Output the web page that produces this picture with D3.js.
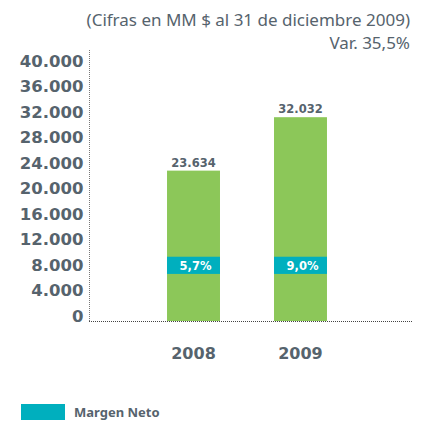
<!DOCTYPE html>
<html>
<head>
<meta charset="utf-8">
<script src="https://cdn.jsdelivr.net/npm/d3@7"></script>
<style>
  body { margin: 0; background: #fff; }
  text { font-family: "Noto Sans", "Open Sans", sans-serif; fill: #56636d; }
  .num { font-family: "DejaVu Sans", sans-serif; font-weight: bold; }
</style>
</head>
<body>
<div id="wrapper"></div>
<script>
// data
const years = ["2008", "2009"];
const ventas = [23634, 32032];
const ventasLabels = ["23.634", "32.032"];
const margenLabels = ["5,7%", "9,0%"];
const margenBand = [7400, 10100];   // where the teal band sits on the value axis
const yTicks = [0, 4000, 8000, 12000, 16000, 20000, 24000, 28000, 32000, 36000, 40000];

function build() {
  const dimension = { width: 425, height: 428 };

  const svg = d3.select("#wrapper").append("svg")
    .attr("width", dimension.width)
    .attr("height", dimension.height);

  const x = d3.scaleBand()
    .domain(years)
    .range([87, 407])
    .paddingInner(0.505)
    .paddingOuter(0.748);

  const y = d3.scaleLinear()
    .domain([0, 40000])
    .range([321, 66.5]);

  // title
  svg.append("text")
    .attr("x", 410).attr("y", 26)
    .attr("text-anchor", "end")
    .style("font-size", "17px")
    .text("(Cifras en MM $ al 31 de diciembre 2009)");
  svg.append("text")
    .attr("x", 410).attr("y", 48.5)
    .attr("text-anchor", "end")
    .style("font-size", "17px")
    .text("Var. 35,5%");

  // bars
  svg.selectAll("rect.bar")
    .data(ventas)
    .enter()
    .append("rect")
    .attr("class", "bar")
    .attr("x", (d, i) => x(years[i]))
    .attr("width", x.bandwidth())
    .attr("y", d => y(d))
    .attr("height", d => y(0) - y(d))
    .style("fill", "#8cc759");

  svg.selectAll("rect.margen")
    .data(margenLabels)
    .enter()
    .append("rect")
    .attr("class", "margen")
    .attr("x", (d, i) => x(years[i]))
    .attr("width", x.bandwidth())
    .attr("y", y(margenBand[1]))
    .attr("height", y(margenBand[0]) - y(margenBand[1]))
    .style("fill", "#00afbe");

  svg.selectAll("text.margen")
    .data(margenLabels)
    .enter()
    .append("text")
    .attr("class", "margen num")
    .attr("x", (d, i) => x(years[i]) + x.bandwidth() / 2 + 2)
    .attr("y", (y(margenBand[0]) + y(margenBand[1])) / 2 + 4.5)
    .attr("text-anchor", "middle")
    .style("font-size", "11.5px")
    .style("fill", "#fff")
    .text(d => d);

  svg.selectAll("text.valor")
    .data(ventasLabels)
    .enter()
    .append("text")
    .attr("class", "valor num")
    .attr("x", (d, i) => x(years[i]) + x.bandwidth() / 2)
    .attr("y", (d, i) => y(ventas[i]) - 4)
    .attr("text-anchor", "middle")
    .style("font-size", "11.5px")
    .text(d => d);

  // y axis labels
  const yAxis = svg.append("g")
    .attr("transform", "translate(89.5,0)")
    .call(d3.axisLeft(y).tickValues(yTicks).tickSize(0).tickPadding(6)
      .tickFormat(d => d3.format(",")(d).replace(/,/g, ".")));
  yAxis.select(".domain").remove();
  yAxis.selectAll("text")
    .attr("class", "num")
    .attr("dy", "0")
    .style("font-size", "16.5px")
    .attr("fill", "#56636d");

  // dotted axis lines
  svg.append("line")
    .attr("x1", 89.5).attr("x2", 89.5)
    .attr("y1", 50).attr("y2", y(0) + 1)
    .style("stroke", "#777").style("stroke-dasharray", "1,1");
  svg.append("line")
    .attr("x1", 89).attr("x2", 412)
    .attr("y1", y(0) + 0.5).attr("y2", y(0) + 0.5)
    .style("stroke", "#444").style("stroke-dasharray", "1,1");

  // year labels
  svg.selectAll("text.year")
    .data(years)
    .enter()
    .append("text")
    .attr("class", "year num")
    .attr("x", d => x(d) + x.bandwidth() / 2)
    .attr("y", 359)
    .attr("text-anchor", "middle")
    .style("font-size", "16px")
    .text(d => d);

  // legend
  svg.append("rect")
    .attr("x", 21).attr("y", 404)
    .attr("width", 44).attr("height", 16)
    .style("fill", "#00afbe");
  svg.append("text")
    .attr("x", 74).attr("y", 417)
    .style("font-size", "13px")
    .style("font-weight", "bold")
    .text("Margen Neto");
}

build();
</script>
</body>
</html>
